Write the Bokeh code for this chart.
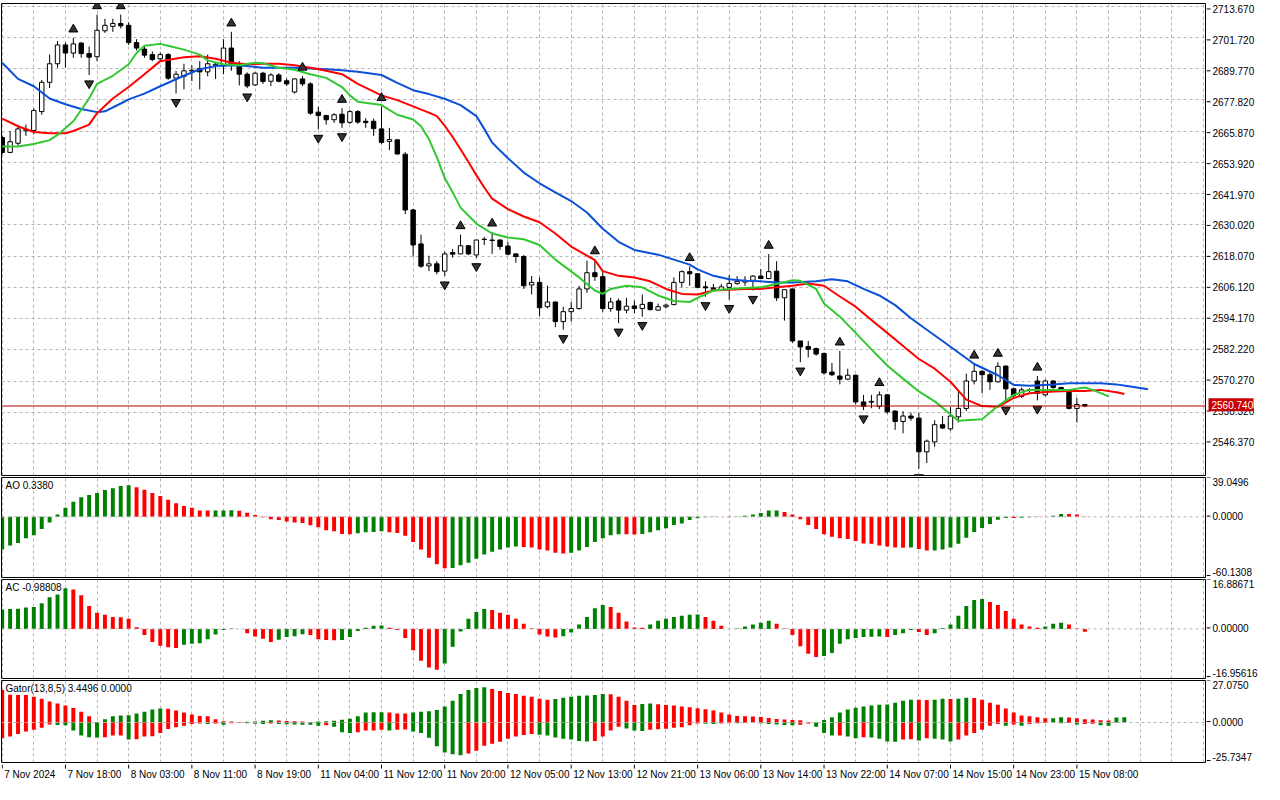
from bokeh.plotting import figure
from bokeh.layouts import column, row
from bokeh.models import Range1d, FixedTicker, Grid, Label, Span, ColumnDataSource
from bokeh.core.properties import value
from bokeh.embed import file_html
from bokeh.resources import INLINE

# ---------------- data (hourly candles, bar index 0..137) ----------------
x_tick_bars = [0, 8, 16, 24, 32, 40, 48, 56, 64, 72, 80, 88, 96, 104, 112, 120, 128, 136]
x_tick_labels = ["7 Nov 2024", "7 Nov 18:00", "8 Nov 03:00", "8 Nov 11:00", "8 Nov 19:00",
                 "11 Nov 04:00", "11 Nov 12:00", "11 Nov 20:00", "12 Nov 05:00", "12 Nov 13:00",
                 "12 Nov 21:00", "13 Nov 06:00", "13 Nov 14:00", "13 Nov 22:00", "14 Nov 07:00",
                 "14 Nov 15:00", "14 Nov 23:00", "15 Nov 08:00"]
price_ticks = [2546.37, 2558.32, 2570.27, 2582.22, 2594.17, 2606.12, 2618.07, 2630.02,
               2641.97, 2653.92, 2665.87, 2677.82, 2689.77, 2701.72, 2713.67]
price_min, price_max = 2534.16, 2714.64
last_price = 2560.74

opens = [2663.4, 2657.7, 2661.2, 2666.0, 2666.1, 2673.3, 2684.5, 2691.6, 2698.8, 2695.7,
         2699.5, 2695.5, 2694.3, 2704.2, 2705.9, 2707.0, 2706.3, 2699.7, 2697.2, 2695.1,
         2693.5, 2695.1, 2686.1, 2686.8, 2688.8, 2689.8, 2688.5, 2691.0, 2690.7, 2697.6,
         2691.4, 2687.6, 2683.5, 2688.0, 2684.9, 2687.3, 2685.1, 2680.8, 2685.8, 2683.9,
         2673.1, 2671.8, 2670.2, 2672.3, 2669.2, 2673.3, 2669.6, 2669.6, 2666.7, 2661.9,
         2662.5, 2657.0, 2635.7, 2622.7, 2614.3, 2615.1, 2612.3, 2619.4, 2618.9, 2622.0,
         2618.5, 2624.5, 2624.2, 2624.2, 2621.9, 2618.9, 2617.9, 2607.0, 2608.0, 2598.7,
         2600.5, 2593.0, 2596.8, 2598.0, 2605.5, 2611.7, 2610.2, 2598.0, 2600.9, 2597.4,
         2599.0, 2598.0, 2600.3, 2597.4, 2598.7, 2599.5, 2608.0, 2612.1, 2611.3, 2606.3,
         2605.9, 2605.2, 2606.1, 2607.6, 2608.1, 2608.8, 2610.4, 2609.5, 2612.3, 2602.1,
         2605.5, 2585.6, 2583.5, 2582.7, 2580.8, 2573.7, 2572.2, 2571.0, 2572.5, 2562.3,
         2562.2, 2560.6, 2565.0, 2558.8, 2554.8, 2556.9, 2556.1, 2543.2, 2547.0, 2553.6,
         2552.0, 2556.6, 2559.8, 2570.3, 2574.0, 2572.7, 2570.0, 2576.0, 2567.3, 2564.4,
         2566.9, 2570.3, 2565.0, 2570.3, 2567.8, 2566.0, 2559.8, 2561.3]
highs = [2664.1, 2665.9, 2668.3, 2668.3, 2674.6, 2685.4, 2695.1, 2700.3, 2699.7, 2701.5,
         2699.9, 2698.2, 2710.4, 2708.8, 2708.8, 2710.4, 2707.5, 2701.0, 2698.8, 2696.3,
         2696.0, 2695.7, 2688.9, 2691.6, 2691.0, 2692.6, 2695.1, 2692.0, 2701.0, 2703.8,
         2692.6, 2688.3, 2688.3, 2688.5, 2688.0, 2688.0, 2686.0, 2686.0, 2686.9, 2684.5,
         2675.2, 2672.1, 2672.7, 2674.6, 2673.9, 2673.9, 2670.8, 2670.6, 2675.3, 2667.1,
         2662.7, 2657.8, 2636.1, 2626.3, 2618.2, 2616.1, 2619.8, 2620.8, 2626.3, 2622.3,
         2624.2, 2625.4, 2627.3, 2624.5, 2623.5, 2619.2, 2618.5, 2610.4, 2609.9, 2606.7,
         2600.7, 2598.7, 2600.5, 2606.7, 2616.3, 2616.7, 2612.1, 2602.1, 2601.8, 2602.1,
         2601.1, 2603.4, 2600.7, 2599.9, 2599.9, 2609.9, 2612.6, 2614.1, 2611.5, 2608.4,
         2607.4, 2607.4, 2610.8, 2610.4, 2610.4, 2610.8, 2613.0, 2618.8, 2616.1, 2605.2,
         2605.5, 2585.6, 2585.6, 2583.1, 2581.2, 2577.2, 2581.8, 2575.0, 2572.7, 2565.0,
         2565.0, 2566.3, 2565.3, 2559.1, 2558.8, 2558.2, 2558.2, 2547.9, 2555.3, 2556.9,
         2560.3, 2566.3, 2573.1, 2576.8, 2574.4, 2573.7, 2577.5, 2576.2, 2567.8, 2567.8,
         2567.5, 2572.2, 2570.9, 2570.6, 2568.1, 2566.5, 2563.8, 2561.5]
lows = [2657.0, 2657.4, 2660.3, 2664.0, 2664.6, 2672.1, 2682.3, 2690.1, 2690.1, 2693.9,
        2693.9, 2687.3, 2692.6, 2703.4, 2703.8, 2705.1, 2698.8, 2696.7, 2693.9, 2692.6,
        2692.6, 2685.4, 2680.2, 2681.8, 2685.0, 2681.8, 2686.8, 2685.8, 2687.6, 2688.9,
        2683.3, 2682.3, 2683.1, 2683.9, 2683.1, 2684.5, 2683.1, 2680.2, 2683.1, 2672.1,
        2666.5, 2668.3, 2669.0, 2667.1, 2668.6, 2668.6, 2667.1, 2664.0, 2660.9, 2658.6,
        2656.9, 2634.1, 2617.9, 2613.6, 2612.3, 2611.1, 2610.4, 2617.5, 2618.8, 2618.5,
        2617.4, 2622.3, 2618.9, 2620.4, 2618.3, 2615.5, 2605.5, 2603.4, 2595.1, 2598.0,
        2590.9, 2589.9, 2593.0, 2597.6, 2604.0, 2608.6, 2596.8, 2596.8, 2592.4, 2596.2,
        2596.2, 2594.9, 2597.2, 2597.2, 2598.0, 2599.3, 2606.1, 2606.7, 2605.9, 2602.5,
        2604.9, 2604.9, 2601.4, 2607.1, 2606.7, 2604.9, 2609.2, 2609.2, 2600.9, 2593.4,
        2584.9, 2577.5, 2579.3, 2580.0, 2572.7, 2572.2, 2569.0, 2570.6, 2561.3, 2559.2,
        2559.9, 2559.5, 2557.8, 2551.6, 2550.3, 2555.1, 2536.7, 2538.9, 2545.1, 2552.0,
        2551.3, 2554.4, 2558.8, 2569.0, 2565.6, 2566.9, 2569.7, 2562.5, 2563.8, 2563.8,
        2565.9, 2562.9, 2564.4, 2567.3, 2566.6, 2559.4, 2554.4, 2560.3]
closes = [2657.7, 2661.8, 2666.7, 2666.4, 2673.7, 2684.5, 2691.6, 2698.8, 2695.7, 2699.2,
          2695.5, 2694.1, 2704.4, 2706.3, 2707.0, 2706.1, 2699.7, 2697.6, 2694.9, 2693.2,
          2695.1, 2686.1, 2687.6, 2688.9, 2689.1, 2688.5, 2691.6, 2691.4, 2697.6, 2691.4,
          2687.6, 2683.1, 2688.0, 2684.8, 2687.3, 2684.9, 2683.9, 2685.8, 2683.9, 2672.7,
          2671.8, 2670.2, 2672.1, 2669.0, 2673.3, 2669.3, 2669.1, 2666.8, 2661.5, 2662.6,
          2657.1, 2635.7, 2622.3, 2614.2, 2615.1, 2612.1, 2618.9, 2618.8, 2622.0, 2618.9,
          2624.2, 2624.4, 2624.0, 2621.7, 2618.8, 2617.9, 2606.7, 2608.0, 2598.3, 2600.5,
          2593.0, 2596.8, 2598.0, 2605.5, 2611.7, 2610.2, 2598.0, 2600.5, 2597.4, 2598.9,
          2598.0, 2599.6, 2597.6, 2598.7, 2599.3, 2608.0, 2612.1, 2611.3, 2606.1, 2605.9,
          2605.4, 2606.3, 2607.6, 2608.4, 2608.8, 2610.4, 2609.5, 2612.1, 2602.1, 2605.2,
          2585.6, 2583.3, 2582.4, 2580.6, 2573.4, 2572.7, 2571.0, 2572.5, 2562.3, 2560.6,
          2562.5, 2565.0, 2558.5, 2554.8, 2556.9, 2556.1, 2543.2, 2547.3, 2553.6, 2552.3,
          2556.9, 2559.8, 2570.3, 2574.0, 2572.7, 2570.0, 2575.9, 2567.3, 2564.8, 2566.9,
          2566.8, 2565.6, 2570.3, 2567.8, 2567.1, 2559.8, 2561.3, 2560.74]

fractal_up = [9, 12, 15, 29, 38, 43, 48, 58, 62, 75, 87, 97, 106, 111, 123, 126, 131]
fractal_down = [11, 22, 31, 40, 43, 56, 60, 71, 78, 81, 89, 92, 95, 101, 109, 116, 127, 131]

# Alligator lines (as displayed, i.e. already shifted forward)
jaw_bars = [0, 2, 4, 6, 8, 10, 12, 13, 15, 16, 18, 20, 23, 25, 27, 29, 31, 33, 35, 37,
            39, 41, 43, 45, 48, 50, 52, 54, 56, 58, 60, 61, 62, 63, 64, 66, 68, 70, 72, 74,
            76, 78, 80, 83, 85, 87, 88, 90, 92, 94, 96, 98, 100, 103, 105, 107, 109, 111, 113, 115,
            117, 119, 121, 123, 126, 128, 130, 133, 135, 137, 139, 141, 143, 145]
jaw_vals = [2692.0, 2685.8, 2683.0, 2678.3, 2676.1, 2674.3, 2673.1, 2673.4, 2676.4, 2678.0,
            2680.2, 2683.0, 2687.0, 2689.5, 2690.7, 2691.0, 2690.7, 2690.1, 2690.1, 2690.1,
            2689.8, 2689.5, 2689.1, 2688.5, 2687.3, 2684.3, 2681.5, 2680.0, 2678.2, 2675.8,
            2671.6, 2666.7, 2661.5, 2658.4, 2655.5, 2650.0, 2645.9, 2642.4, 2639.1, 2634.7,
            2628.5, 2623.5, 2620.4, 2618.6, 2616.7, 2614.8, 2613.0, 2610.5, 2609.2, 2608.6,
            2608.4, 2608.0, 2608.0, 2608.4, 2609.2, 2608.4, 2605.5, 2603.0, 2599.3, 2594.3,
            2589.9, 2585.6, 2581.2, 2576.8, 2572.5, 2568.8, 2568.5, 2569.0, 2569.4, 2569.4,
            2569.4, 2569.0, 2568.1, 2567.1]
teeth_bars = [0, 2, 4, 6, 8, 9, 11, 12, 14, 16, 18, 20, 23, 25, 27, 29, 31, 33, 35, 37,
              39, 41, 43, 45, 48, 50, 52, 54, 55, 56, 57, 58, 59, 60, 61, 62, 64, 66, 68, 70,
              72, 75, 76, 78, 80, 82, 84, 86, 88, 90, 92, 94, 96, 98, 100, 102, 104, 106, 108, 110,
              112, 114, 116, 118, 120, 122, 124, 126, 128, 130, 133, 135, 137, 139, 141, 142]
teeth_vals = [2670.6, 2667.7, 2665.5, 2665.0, 2665.0, 2665.9, 2668.3, 2672.7, 2678.3, 2682.7,
              2687.6, 2692.6, 2694.1, 2694.5, 2693.5, 2692.0, 2691.4, 2691.6, 2691.6, 2691.0,
              2690.1, 2688.9, 2687.6, 2683.9, 2679.5, 2677.7, 2675.3, 2672.9, 2671.6, 2667.9,
              2663.6, 2658.9, 2654.0, 2649.0, 2644.3, 2640.0, 2636.0, 2633.2, 2631.0, 2626.7,
              2621.7, 2616.5, 2612.3, 2610.5, 2609.9, 2608.4, 2605.5, 2603.6, 2603.4, 2604.9,
              2605.2, 2605.5, 2605.5, 2606.1, 2606.7, 2607.6, 2606.7, 2602.6, 2598.7, 2593.6,
              2588.7, 2583.7, 2578.7, 2575.0, 2570.0, 2563.2, 2560.7, 2560.4, 2563.8, 2565.6,
              2566.3, 2566.5, 2566.5, 2566.9, 2566.0, 2565.3]
lips_bars = [0, 2, 4, 6, 7, 9, 11, 12, 14, 16, 17, 18, 20, 21, 23, 25, 26, 28, 30, 32,
             33, 35, 37, 39, 41, 43, 44, 45, 48, 50, 52, 53, 54, 55, 56, 57, 58, 60, 62, 64,
             66, 68, 70, 73, 75, 76, 77, 79, 81, 83, 85, 87, 88, 90, 92, 94, 96, 98, 100, 101,
             103, 104, 106, 108, 110, 112, 114, 116, 118, 120, 121, 124, 126, 128, 130, 133, 135, 137, 138, 140]
lips_vals = [2660.0, 2660.0, 2660.9, 2662.4, 2664.4, 2669.6, 2678.3, 2683.9, 2687.0, 2691.4,
             2695.7, 2698.5, 2699.2, 2698.5, 2697.0, 2695.1, 2692.9, 2691.4, 2691.0, 2692.0,
             2691.8, 2690.1, 2689.3, 2687.6, 2686.2, 2682.7, 2679.5, 2677.1, 2675.8, 2672.1,
             2670.3, 2667.7, 2662.8, 2655.9, 2647.9, 2642.5, 2636.6, 2630.5, 2626.7, 2625.2,
             2624.5, 2622.3, 2616.7, 2609.9, 2604.9, 2603.6, 2605.5, 2606.7, 2606.1, 2603.0,
             2600.9, 2600.5, 2602.1, 2604.9, 2605.5, 2605.9, 2606.1, 2607.4, 2608.8, 2608.6,
             2605.5, 2599.9, 2594.9, 2588.7, 2582.4, 2576.2, 2571.2, 2566.3, 2562.5, 2557.6,
             2555.1, 2555.7, 2560.7, 2565.0, 2566.9, 2566.9, 2566.9, 2567.8, 2566.9, 2564.4]

ao_values = [-32.4, -28.5, -25.9, -21.1, -18.2, -12.0, -5.5, 2.3, 9.1, 14.9,
             19.4, 21.7, 23.7, 26.6, 28.5, 30.5, 31.4, 29.5, 26.9, 23.7,
             20.7, 16.9, 13.6, 10.7, 9.1, 6.4, 6.2, 6.3, 6.4, 6.5,
             6.1, 4.2, 1.9, -0.3, -2.3, -3.2, -4.5, -5.5, -6.2, -8.4,
             -10.4, -13.3, -14.3, -16.9, -17.2, -16.2, -15.2, -15.1, -14.3, -15.2,
             -16.0, -18.8, -25.0, -32.4, -40.5, -47.0, -50.9, -50.8, -48.0, -45.4,
             -41.5, -37.3, -34.7, -32.4, -30.5, -29.5, -29.8, -30.5, -32.4, -33.4,
             -35.7, -36.3, -35.7, -33.4, -29.8, -25.0, -21.1, -18.2, -17.2, -17.3,
             -17.4, -16.9, -15.2, -13.3, -11.3, -8.1, -6.5, -3.2, -1.3, -0.3,
             -0.1, 0.1, -0.3, 0.3, 1.0, 2.3, 3.9, 6.2, 6.3, 4.9,
             2.3, -2.3, -8.1, -12.0, -17.2, -19.8, -21.1, -22.0, -24.0, -26.3,
             -26.6, -28.5, -29.5, -30.5, -30.6, -30.4, -31.8, -33.4, -33.3, -32.4,
             -30.5, -26.6, -20.7, -14.9, -11.0, -7.1, -2.9, -1.0, -1.2, -0.9,
             -0.4, -0.2, 0.1, 1.0, 2.9, 2.8, 2.3, 0.338]
ac_values = [6.6, 6.8, 6.9, 7.3, 7.5, 8.8, 10.8, 11.8, 13.9, 13.5,
             11.5, 7.8, 5.5, 4.8, 4.1, 4.0, 3.5, 0.6, -2.1, -4.5,
             -5.8, -6.3, -6.5, -5.4, -5.1, -4.9, -3.5, -1.9, -0.4, 0.1,
             0.0, -1.5, -2.6, -3.4, -4.5, -3.7, -2.8, -2.5, -1.8, -2.1,
             -3.5, -3.8, -3.9, -3.8, -2.8, -0.7, 0.4, 1.1, 1.2, 0.4,
             -0.4, -3.1, -7.3, -10.9, -13.2, -14.0, -11.8, -6.1, -0.9, 3.5,
             5.8, 6.8, 6.5, 5.5, 4.8, 3.5, 1.8, 0.2, -1.9, -2.6,
             -2.9, -2.5, -1.2, 1.5, 4.1, 7.1, 8.2, 7.5, 5.5, 2.5,
             0.5, 0.4, 1.5, 2.8, 3.5, 4.1, 4.5, 4.8, 4.9, 4.1,
             2.8, 1.1, 0.0, 0.1, 0.8, 1.5, 2.1, 2.8, 1.8, 0.1,
             -2.1, -5.9, -8.5, -9.6, -9.3, -8.2, -5.1, -3.5, -3.1, -2.8,
             -2.7, -2.6, -2.8, -2.1, -1.5, -0.4, -1.1, -2.1, -1.5, 0.2,
             1.5, 4.5, 7.8, 9.9, 10.2, 9.2, 8.2, 6.1, 3.5, 1.5,
             0.8, 0.4, 0.8, 1.8, 2.1, 1.5, 0.1, -0.98808]
gator_upper = [21.0, 17.9, 17.8, 17.7, 16.6, 15.3, 13.6, 12.2, 10.9, 9.4,
               6.9, 4.0, 0.3, 2.1, 4.0, 4.6, 4.7, 5.9, 6.9, 8.4,
               9.0, 8.9, 7.8, 6.5, 5.2, 4.2, 4.0, 2.1, 0.8, 0.6,
               0.3, 0.5, 0.7, 1.1, 1.5, 1.3, 1.0, 0.8, 0.6, 0.4,
               0.6, 0.9, 1.2, 1.8, 2.5, 4.0, 6.5, 6.6, 6.7, 6.4,
               5.9, 5.8, 6.5, 6.9, 7.3, 8.0, 10.3, 14.0, 18.4, 21.0,
               22.2, 22.8, 21.6, 20.3, 19.1, 18.4, 17.2, 16.6, 15.3, 14.7,
               15.1, 15.9, 16.6, 17.2, 17.4, 17.8, 18.4, 18.2, 16.6, 14.0,
               11.3, 11.9, 12.2, 11.7, 11.3, 10.9, 10.3, 9.8, 9.2, 8.6,
               7.8, 6.5, 5.2, 4.2, 4.0, 3.9, 3.6, 2.9, 2.3, 1.9,
               1.6, 1.4, 0.4, 0.1, 1.7, 3.4, 6.5, 8.4, 9.6, 10.3,
               10.9, 11.5, 11.6, 12.8, 14.0, 14.7, 14.6, 14.5, 14.7, 15.3,
               15.1, 15.3, 15.9, 15.8, 14.7, 12.8, 11.5, 9.0, 6.5, 4.6,
               4.0, 3.4, 2.7, 2.8, 3.4, 3.3, 2.7, 2.1, 2.0, 1.5,
               1.3, 3.3, 3.4496]
gator_lower = [10.1, 9.0, 7.3, 5.7, 4.6, 3.4, 1.2, 1.6, 1.8, 5.2,
               8.4, 9.4, 9.6, 9.4, 8.4, 8.3, 10.9, 10.8, 9.0, 8.9,
               6.7, 4.2, 3.1, 2.1, 1.0, 0.6, 1.0, 0.6, 1.5, 0.4,
               0.2, 0.4, 0.8, 0.9, 0.6, 1.0, 1.1, 1.3, 1.4, 1.5,
               2.1, 1.7, 2.7, 6.3, 6.7, 6.3, 5.2, 5.1, 4.6, 5.2,
               4.6, 4.5, 5.7, 6.7, 9.8, 15.3, 19.3, 20.5, 21.0, 19.9,
               18.2, 14.9, 13.6, 12.4, 10.5, 9.0, 8.0, 7.3, 7.8, 8.4,
               9.6, 10.5, 10.9, 11.9, 12.2, 11.9, 9.0, 5.2, 2.7, 3.8,
               5.2, 5.4, 4.6, 4.4, 4.0, 3.4, 3.1, 1.7, 0.6, 0.8,
               0.9, 0.6, 0.4, 0.5, 0.3, 0.2, 0.5, 0.9, 1.3, 1.6,
               1.7, 1.5, 0.6, 2.7, 6.7, 8.4, 8.3, 9.0, 10.1, 9.4,
               9.6, 10.5, 12.2, 12.3, 10.9, 10.8, 11.5, 10.1, 10.5, 10.9,
               12.2, 10.9, 8.4, 6.7, 4.6, 2.1, 1.0, 2.1, 1.3, 2.1,
               1.0, 0.4, 0.3, 0.2, 0.4, 0.3, 1.2, 1.0, 0.8, 1.7,
               2.1]

ao_range = (-60.1308, 39.0496)
ac_range = (-16.95616, 16.88671)
gator_range = (-25.7347, 27.075)
ao_scale_labels = ["39.0496", "0.0000", "-60.1308"]
ac_scale_labels = ["16.88671", "0.00000", "-16.95616"]
gator_scale_labels = ["27.0750", "0.0000", "-25.7347"]

# ---------------- styling / layout ----------------
FONT = "Liberation Sans"
FS = "10px"
W = 1264
AXW = 58
PW = W - AXW
GRID_COLOR = "#b9b3b9"
GREEN = "#008000"
RED = "#ff0000"
JAW = "#0a50d8"
TEETH = "#ff0000"
LIPS = "#32c832"
PRICE_RED = "#c80000"

x_range = Range1d(-0.09, 152.4)
vgrid_ticks = list(range(0, 153, 4))


def panel_fig(height, lo, hi, top, bottom):
    p = figure(width=PW, height=height, x_range=x_range, y_range=Range1d(lo, hi),
               output_backend="svg", toolbar_location=None,
               x_axis_location=None, y_axis_location=None,
               min_border_left=1, min_border_right=0,
               min_border_top=top, min_border_bottom=bottom,
               outline_line_color="black", outline_line_width=1,
               background_fill_color="white", border_fill_color="white")
    p.grid.visible = False
    p.add_layout(Grid(dimension=0, ticker=FixedTicker(ticks=vgrid_ticks),
                      grid_line_color=GRID_COLOR, grid_line_dash="3 3", grid_line_width=1))
    return p


def axis_fig(height, lo, hi, top, bottom):
    # right-hand price scale drawn as its own strip, same data->pixel mapping as the panel
    frame = height - top - bottom
    upp = (hi - lo) / frame
    a = figure(width=AXW, height=height, x_range=Range1d(0, AXW),
               y_range=Range1d(lo - bottom * upp, hi + top * upp),
               output_backend="svg", toolbar_location=None,
               x_axis_location=None, y_axis_location=None,
               min_border_left=0, min_border_right=0, min_border_top=0, min_border_bottom=0,
               outline_line_color=None,
               background_fill_color="white", border_fill_color="white")
    a.grid.visible = False
    return a


def scale_labels(a, ys, texts, baseline):
    a.segment(x0=[0] * len(ys), y0=ys, x1=[4] * len(ys), y1=ys, line_color="black", line_width=1)
    a.text(x=[6] * len(ys), y=ys, text=texts, text_align="left", text_baseline=baseline,
           text_font=value(FONT), text_font_size=FS, text_color="black")


def title_label(p, hi, text):
    p.add_layout(Label(x=x_range.start, y=hi, x_offset=4, y_offset=-2, text=text,
                       text_baseline="top", text_align="left", text_font=FONT,
                       text_font_size=FS, text_color="black"))


def hist_colors(vals, first):
    out = [first]
    for a, b in zip(vals[:-1], vals[1:]):
        out.append(GREEN if b > a else RED)
    return out


def sub_panel(height, rng, vals_list, firsts, scale_txt, title, top, bottom):
    lo, hi = rng
    p = panel_fig(height, lo, hi, top, bottom)
    p.add_layout(Span(location=0, dimension="width", line_color=GRID_COLOR,
                      line_dash="3 3", line_width=1))
    for vals, first, sign in zip(vals_list, firsts, [1, -1]):
        if sign > 0:
            p.vbar(x=list(range(len(vals))), top=vals, bottom=0, width=0.5,
                   fill_color=hist_colors(vals, first), line_color=None)
        else:
            p.vbar(x=list(range(len(vals))), top=0, bottom=[-v for v in vals], width=0.5,
                   fill_color=hist_colors(vals, first), line_color=None)
    title_label(p, hi, title)
    a = axis_fig(height, lo, hi, top, bottom)
    scale_labels(a, [hi], [scale_txt[0]], "top")
    scale_labels(a, [0.0], [scale_txt[1]], "middle")
    scale_labels(a, [lo], [scale_txt[2]], "bottom")
    return row(p, a, spacing=0)


# ---- main price panel ----
MAIN_H, MAIN_TOP, MAIN_BOT = 477, 3, 2
main_frame = MAIN_H - MAIN_TOP - MAIN_BOT
pm = panel_fig(MAIN_H, price_min, price_max, MAIN_TOP, MAIN_BOT)
pm.add_layout(Grid(dimension=1, ticker=FixedTicker(ticks=price_ticks),
                   grid_line_color=GRID_COLOR, grid_line_dash="3 3", grid_line_width=1))

n = len(opens)
src = ColumnDataSource(dict(
    x=list(range(n)), h=highs, l=lows,
    t=[max(o, c) for o, c in zip(opens, closes)],
    b=[min(o, c) for o, c in zip(opens, closes)],
    fill=["white" if c > o else "black" for o, c in zip(opens, closes)]))
pm.segment(x0="x", y0="l", x1="x", y1="h", source=src, line_color="black", line_width=1)
pm.vbar(x="x", top="t", bottom="b", width=0.56, fill_color="fill", line_color="black",
        line_width=1, source=src)

pm.add_layout(Span(location=last_price, dimension="width", line_color="#b40000", line_width=1))

pm.line(jaw_bars, jaw_vals, line_color=JAW, line_width=2)
pm.line(teeth_bars, teeth_vals, line_color=TEETH, line_width=2)
pm.line(lips_bars, lips_vals, line_color=LIPS, line_width=2)

off = 8.5 * (price_max - price_min) / main_frame
pm.scatter(fractal_up, [highs[i] + off for i in fractal_up], marker="triangle", size=9,
           fill_color="#333333", line_color="black", line_width=1)
pm.scatter(fractal_down, [lows[i] - off for i in fractal_down], marker="inverted_triangle",
           size=9, fill_color="#333333", line_color="black", line_width=1)

am = axis_fig(MAIN_H, price_min, price_max, MAIN_TOP, MAIN_BOT)
scale_labels(am, price_ticks, [f"{v:.3f}" for v in price_ticks], "middle")
am.rect(x=[24.5], y=[last_price], width=45, height=13, height_units="screen",
        fill_color=PRICE_RED, line_color=None)
am.text(x=[5], y=[last_price], text=[f"{last_price:.3f}"], text_align="left",
        text_baseline="middle", text_font=value(FONT), text_font_size=FS, text_color="white")

main_row = row(pm, am, spacing=0)

ao_row = sub_panel(102, ao_range, [ao_values], [GREEN], ao_scale_labels, "AO 0.3380", 0, 2)
ac_row = sub_panel(101, ac_range, [ac_values], [GREEN], ac_scale_labels, "AC -0.98808", 0, 2)
gator_row = sub_panel(84, gator_range, [gator_upper, gator_lower], [RED, RED],
                      gator_scale_labels, "Gator(13,8,5) 3.4496 0.0000", 0, 2)

# ---- time scale strip ----
LAB_H = 20
lf = figure(width=W, height=LAB_H, x_range=x_range, y_range=Range1d(0, LAB_H),
            output_backend="svg", toolbar_location=None,
            x_axis_location=None, y_axis_location=None,
            min_border_left=1, min_border_right=AXW, min_border_top=0, min_border_bottom=0,
            outline_line_color=None, background_fill_color="white", border_fill_color="white")
lf.grid.visible = False
lf.segment(x0=x_tick_bars, y0=[LAB_H] * len(x_tick_bars), x1=x_tick_bars,
           y1=[LAB_H - 4] * len(x_tick_bars), line_color="black", line_width=1)
lf.text(x=x_tick_bars, y=[LAB_H - 4] * len(x_tick_bars), text=x_tick_labels,
        text_align="left", text_baseline="top", x_offset=2,
        text_font=value(FONT), text_font_size=FS, text_color="black")

layout = column(main_row, ao_row, ac_row, gator_row, lf, spacing=0)
open("out.html", "w").write(file_html(layout, INLINE))
